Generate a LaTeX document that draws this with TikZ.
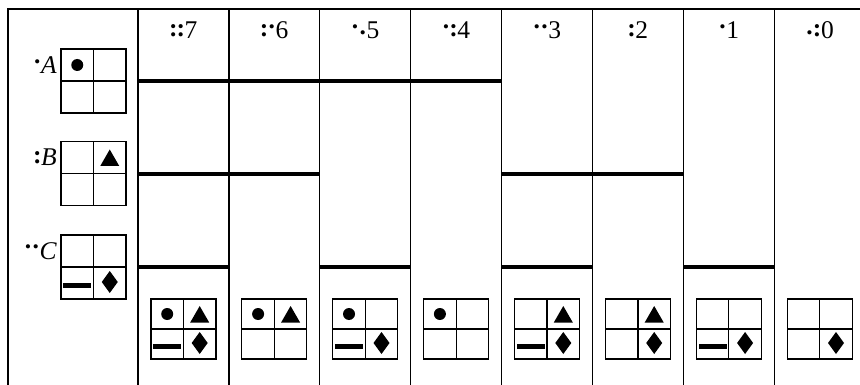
\documentclass[tikz,border=0pt]{standalone}
\usepackage{fontspec}
\setmainfont{Liberation Serif}
\newcommand\dU{\makebox[0.3em][c]{\raisebox{0.42em}{\textbf{.}}}}
\newcommand\dL{\makebox[0.3em][c]{\raisebox{0.16em}{\textbf{.}}}}
\newcommand\dB{\makebox[0.3em][c]{\raisebox{0.1em}{\textbf{:}}}}
\newcommand\quadbox[7]{%
  \draw[thinln] (#1-32.5,#2) rectangle (#1+32.5,#2+#3);
  \draw[thinln] (#1,#2) -- (#1,#2+#3) (#1-32.5,#2+#3/2) -- (#1+32.5,#2+#3/2);
  \ifnum#4=1 \fill (#1-16.25,#2+#3/4) circle[radius=6];\fi
  \ifnum#5=1 \fill (#1+16.25-9.5,#2+#3/4+8.5) -- (#1+16.25+9.5,#2+#3/4+8.5) -- (#1+16.25,#2+#3/4-8) -- cycle;\fi
  \ifnum#6=1 \fill (#1-16.25-14,#2+3*#3/4+0) rectangle (#1-16.25+14,#2+3*#3/4+5);\fi
  \ifnum#7=1 \fill (#1+16.25,#2+3*#3/4-12) -- (#1+16.25+8,#2+3*#3/4-1) -- (#1+16.25,#2+3*#3/4+10) -- (#1+16.25-8,#2+3*#3/4-1) -- cycle;\fi
}
\begin{document}
\begin{tikzpicture}[x=1pt,y=-1pt,
  thinln/.style={line width=1.2pt},
  thickln/.style={line width=4.2pt},
  lbl/.style={inner sep=0pt, font=\fontsize{25.5}{30}\selectfont}]
\useasboundingbox (0,0) rectangle (860,385);
\clip (0,0) rectangle (860,385);
% frame and column lines
\draw[thinln] (8,400) -- (8,9) -- (900,9);
\foreach \i in {0,...,8} \draw[thinln] (138+90.9*\i,9) -- (138+90.9*\i,400);
% thick level lines
\foreach \a/\b/\y in {0/4/81, 0/2/174, 4/6/174, 0/1/267, 2/3/267, 4/5/267, 6/7/267}
  \draw[thickln] (138+90.9*\a,\y) -- (138+90.9*\b,\y);
% header labels
\node[lbl, anchor=base] (h7) at (183.45+90.9*0,39) {\dB\dB7};
\node[lbl, anchor=base] (h6) at (183.45+90.9*1,39) {\dB\dU6};
\node[lbl, anchor=base] (h5) at (183.45+90.9*2,39) {\dU\dL5};
\node[lbl, anchor=base] (h4) at (183.45+90.9*3,39) {\dU\dB4};
\node[lbl, anchor=base] (h3) at (183.45+90.9*4,39) {\dU\dU3};
\node[lbl, anchor=base] (h2) at (183.45+90.9*5,39) {\dB2};
\node[lbl, anchor=base] (h1) at (183.45+90.9*6,39) {\dU1};
\node[lbl, anchor=base] (h0) at (183.45+90.9*7,39) {\dL\dB0};
% row labels
\node[lbl, anchor=base east] (la) at (57,74) {\dU\textit{A}};
\node[lbl, anchor=base east] (lb) at (57,166) {\dB\textit{B}};
\node[lbl, anchor=base east] (lc) at (57,259) {\dU\dU\textit{C}};
% left boxes
\quadbox{93.5}{49}{64}{1}{0}{0}{0}
\quadbox{93.5}{141.5}{64}{0}{1}{0}{0}
\quadbox{93.5}{235}{64}{0}{0}{1}{1}
% bottom boxes
\quadbox{183.45+90.9*0}{299}{60}{1}{1}{1}{1}
\quadbox{183.45+90.9*1}{299}{60}{1}{1}{0}{0}
\quadbox{183.45+90.9*2}{299}{60}{1}{0}{1}{1}
\quadbox{183.45+90.9*3}{299}{60}{1}{0}{0}{0}
\quadbox{183.45+90.9*4}{299}{60}{0}{1}{1}{1}
\quadbox{183.45+90.9*5}{299}{60}{0}{1}{0}{1}
\quadbox{183.45+90.9*6}{299}{60}{0}{0}{1}{1}
\quadbox{183.45+90.9*7}{299}{60}{0}{0}{0}{1}
\end{tikzpicture}
\end{document}
